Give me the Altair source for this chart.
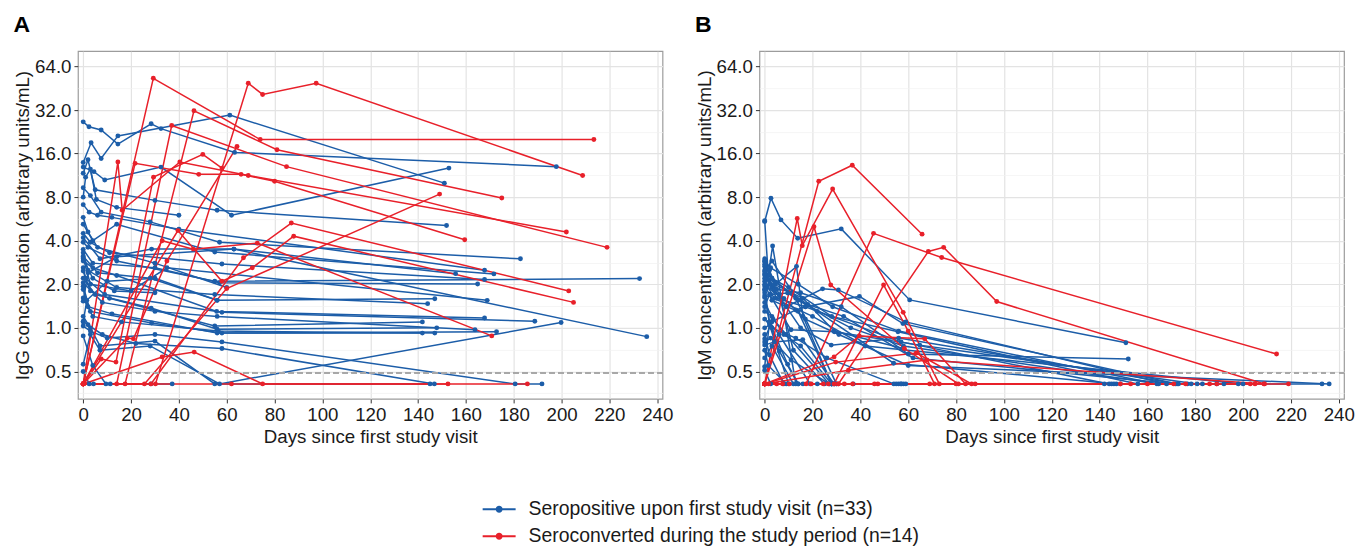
import altair as alt
import pandas as pd

FONT = "Liberation Sans"
BLUE = "#1C5DA8"
RED = "#E8202A"
POS = "Seropositive upon first study visit (n=33)"
CONV = "Seroconverted during the study period (n=14)"
CUTOFF = 0.49

X_ALL = [0, 10, 20, 30, 40, 50, 60, 70, 80, 90, 100, 110, 120, 130, 140, 150,
         160, 170, 180, 190, 200, 210, 220, 230, 240]
Y_MAJOR = [0.5, 1, 2, 4, 8, 16, 32, 64]
Y_ALL = [0.3536, 0.5, 0.7071, 1, 1.4142, 2, 2.8284, 4, 5.6569, 8, 11.3137, 16,
         22.6274, 32, 45.2548, 64]

# IgG, seropositive at first visit: (day, value) per subject
IGG_POS = [
    [(0, 26.5), (2.4, 24.5), (7.5, 23.3), (14.5, 18.6), (28.4, 25.7), (32.5, 23.8), (63.3, 16.3), (197.8, 13.0)],
    [(0, 13.9), (3.3, 19.0), (7.5, 14.8), (14.5, 21.2), (61.3, 29.5), (151, 10.0)],
    [(0, 12.9), (4.5, 12.0), (9, 10.5), (32.5, 12.9), (62, 6.0), (152.9, 12.7)],
    [(0, 11.7), (2, 14.5), (5, 9.0), (30, 7.6), (56, 6.5), (151.9, 5.1)],
    [(0, 9.3), (3, 8.2), (7.5, 6.3), (28, 5.4), (57, 3.9), (182.8, 3.0)],
    [(0, 7.1), (2.5, 6.3), (6, 6.0), (12, 5.8), (40, 4.8), (167.8, 2.5)],
    [(0, 5.2), (4, 4.0), (14, 5.2), (55, 3.34), (171.7, 2.36)],
    [(0, 4.5), (3, 3.9), (11, 3.3), (58, 2.76), (167.8, 2.16)],
    [(0, 4.2), (7, 3.0), (28.6, 3.5), (63, 3.5), (155.7, 2.37)],
    [(0, 3.9), (2, 3.6), (14, 2.9), (55, 2.1), (232.6, 2.19)],
    [(0, 3.48), (4, 2.8), (30, 2.6), (57, 2.05), (164.9, 2.01)],
    [(0, 3.3), (2, 2.5), (14, 1.9), (55, 1.7), (144, 1.47)],
    [(0, 3.13), (6, 2.4), (28, 2.2), (56, 1.55), (147, 1.59)],
    [(0, 3.05), (3, 2.0), (20, 1.8), (35, 2.6), (168.9, 1.55)],
    [(0, 2.9), (4, 2.6), (14, 2.3), (55.8, 1.3), (167.8, 1.17)],
    [(0, 2.6), (1, 2.2), (9, 1.7), (58, 1.28), (188.8, 1.11)],
    [(0, 0.56), (3, 0.9), (7, 0.7), (28, 0.75), (57, 0.41), (199.8, 1.09)],
    [(0, 2.47), (3, 1.8), (11, 1.6), (55, 1.03), (141.8, 1.1)],
    [(0, 2.2), (5, 1.7), (28.4, 1.37), (56, 0.98), (147.8, 1.0)],
    [(0, 2.05), (8, 1.5), (30, 1.3), (56, 1.2), (163.8, 0.97)],
    [(0, 1.94), (3, 1.3), (28.6, 1.08), (58, 0.92), (172.8, 0.94)],
    [(0, 1.84), (2, 1.4), (12, 1.25), (56, 0.92), (141.8, 0.92)],
    [(0, 1.61), (4, 1.2), (16, 1.1), (56.5, 0.95), (147, 0.92)],
    [(0, 1.53), (2, 2.4), (14, 3.1), (63, 3.5), (235.6, 0.87)],
    [(0, 1.2), (3, 1.0), (7, 0.75), (30, 0.81), (55, 0.41), (145, 0.41)],
    [(0, 1.11), (2, 1.05), (8, 0.9), (22, 0.78), (58, 0.72), (146.8, 0.41)],
    [(0, 1.03), (3, 0.95), (10, 0.85), (30, 0.9), (58, 0.8), (180.6, 0.41), (191.8, 0.41)],
    [(0, 0.5), (2.5, 0.41), (4.3, 0.41), (11.3, 0.41)],
    [(0, 0.88), (4, 0.55), (9.5, 0.41), (28.3, 0.41), (37.2, 0.41)],
    [(0, 5.8), (2, 4.6), (6, 3.6), (30, 2.8), (60, 1.9)],
    [(0, 8.0), (1, 11.0), (3, 12.5), (5.5, 7.7), (14, 6.8), (40, 6.0)],
    [(0, 3.0), (4, 2.2), (13, 1.8), (30, 1.75)],
    [(0, 1.1), (1.5, 1.55), (10, 2.1), (30, 2.2), (56, 1.55)],
]

# IgG, seroconverted during the study
IGG_CONV = [
    [(0, 0.41), (29.3, 53), (74, 20), (213.5, 20)],
    [(0, 0.41), (30.2, 0.41), (69, 49), (75, 41), (97.4, 49), (208.8, 11.3)],
    [(0, 0.41), (17.5, 0.41), (46.3, 31.6), (81, 17), (175, 7.9)],
    [(0, 0.41), (14, 0.41), (37, 25), (85, 13), (219, 3.6)],
    [(0, 0.41), (14.5, 14), (16.3, 6.5), (40.4, 14), (69, 11.3), (202, 4.6)],
    [(0, 0.41), (21.7, 13.7), (48.3, 11.5), (66, 11.5), (80, 10.3), (159.5, 4.06)],
    [(0, 0.41), (25.6, 0.41), (60, 1.87), (149, 8.4)],
    [(0, 0.41), (28.3, 0.41), (67, 3.05), (87, 5.3), (203, 1.8)],
    [(0, 0.41), (39.6, 4.7), (58, 2.1), (70.7, 2.6), (88, 4.3), (205, 1.5)],
    [(0, 0.41), (33, 4.0), (46, 3.5), (72.8, 3.85), (170.8, 0.88)],
    [(0, 0.41), (33, 0.63), (46.4, 0.68), (75, 0.41), (152.5, 0.41)],
    [(0, 0.41), (62, 0.41), (185.7, 0.41)],
    [(0, 0.41), (7.5, 0.61), (13.7, 0.58), (29.4, 11), (50, 15.8), (58, 12.7)],
    [(0, 0.41), (18.4, 0.85), (21, 0.84), (35, 2.9), (64.3, 17.9)],
]

# IgM, seropositive at first visit
IGM_POS = [
    [(0, 5.43), (2.6, 7.86), (6.8, 5.57), (13.8, 4.16), (32, 4.83), (60.6, 1.56), (151, 0.79)],
    [(0, 5.5), (1.5, 2.3), (3.3, 3.68), (13, 0.41), (29, 0.41), (146, 0.41)],
    [(0, 2.87), (2.5, 2.6), (14, 2.0), (28.4, 1.4), (56, 0.95), (164, 0.41)],
    [(0, 2.66), (3, 1.9), (13.3, 2.66), (16, 1.2), (28, 0.41), (142, 0.41)],
    [(0, 2.51), (4, 1.85), (15, 1.0), (27.8, 0.76), (56, 0.85), (173, 0.41)],
    [(0, 2.36), (2, 2.0), (9, 1.4), (24.2, 1.86), (30.8, 1.83), (59, 1.1), (168, 0.41)],
    [(0, 2.32), (5, 1.6), (17, 1.4), (39.6, 1.65), (57.8, 1.07), (172.4, 0.41)],
    [(0, 1.83), (3, 2.2), (10, 1.9), (28, 1.2), (55.7, 0.94), (156, 0.41)],
    [(0, 1.67), (1.9, 1.1), (6.1, 0.69), (14, 0.41), (28, 0.41), (148.7, 0.41)],
    [(0, 1.62), (2.5, 1.7), (9.6, 1.74), (22, 1.3), (53.9, 0.57), (147, 0.41)],
    [(0, 1.4), (2, 1.7), (11, 0.97), (29.1, 0.94), (64.8, 0.76), (180.8, 0.41)],
    [(0, 0.84), (3, 1.1), (13, 1.33), (17, 1.4), (57, 0.8), (144, 0.41)],
    [(0, 0.76), (4, 0.8), (15.9, 0.83), (29, 0.41), (58, 0.41), (183, 0.41)],
    [(0, 0.54), (2, 1.1), (9.6, 0.56), (14, 0.41), (189, 0.41)],
    [(0, 0.51), (2.5, 0.41), (28, 0.41), (57, 0.41), (192, 0.41)],
    [(0, 3.0), (1, 2.2), (5, 1.85), (15, 1.75), (32, 1.4), (60, 0.66), (152, 0.61)],
    [(0, 2.9), (3, 2.2), (13, 1.6), (30, 0.41), (198, 0.41)],
    [(0, 2.1), (4, 1.6), (20, 1.2), (42, 0.75), (200, 0.41)],
    [(0, 1.95), (2, 2.5), (6, 1.7), (12, 0.7), (25, 0.41), (233, 0.41)],
    [(0, 1.75), (1, 1.9), (8, 1.6), (17, 1.15), (31, 0.9), (60, 0.55), (236, 0.41)],
    [(0, 2.45), (3, 2.9), (14, 1.55), (36, 1.0), (58, 0.75), (164.7, 0.41)],
    [(0, 2.2), (5, 2.05), (18, 1.45), (33, 1.2), (62, 0.62), (171.7, 0.41)],
    [(0, 1.3), (3, 1.2), (8, 0.9), (15, 0.75), (28, 0.41), (176.7, 0.41)],
    [(0, 1.0), (2, 1.05), (10, 0.41), (22, 0.41), (145, 0.41)],
    [(0, 0.62), (3, 0.75), (12, 0.41), (28, 0.41), (178.3, 0.41)],
    [(0, 2.0), (3, 1.55), (14, 1.3), (28, 0.41), (56, 0.41)],
    [(0, 1.5), (3.5, 1.15), (9, 0.9), (27, 0.41), (55, 0.41)],
    [(0, 0.9), (2, 0.65), (8, 0.41), (29, 0.41), (57, 0.41)],
    [(0, 2.75), (4, 2.0), (16, 1.6), (29, 0.95), (58, 0.72)],
    [(0, 1.15), (3, 1.0), (13, 0.85), (26, 0.62), (54, 0.41)],
    [(0, 0.7), (1.5, 0.55), (9, 0.41), (16, 0.41), (30, 0.41)],
    [(0, 1.85), (2, 1.1), (6, 0.9), (19, 0.41), (37, 0.41)],
    [(0, 0.8), (2.5, 0.85), (11, 0.6), (27, 0.41), (59, 0.41)],
]

# IgM, seroconverted during the study
IGM_CONV = [
    [(0, 0.41), (22.6, 10.3), (36.6, 13.3), (65.8, 4.44)],
    [(0, 0.41), (13.6, 5.7), (15.7, 3.7), (28.4, 9.1), (57.9, 1.28), (73, 0.41), (160, 0.41)],
    [(0, 0.41), (17.3, 0.41), (45.5, 4.5), (74, 3.06), (214, 0.66)],
    [(0, 0.41), (30.8, 0.41), (68.4, 3.37), (74.8, 3.6), (97, 1.52), (209, 0.41)],
    [(0, 0.41), (20.6, 5.0), (27.6, 1.98), (58.4, 0.72), (81, 0.41), (171, 0.41)],
    [(0, 0.41), (29, 0.41), (49.7, 1.98), (60, 0.95), (71, 0.41), (176, 0.41)],
    [(0, 0.41), (29, 0.63), (39.5, 0.88), (66.9, 0.84), (84, 0.41), (186, 0.41)],
    [(0, 0.41), (29.7, 0.58), (63.4, 0.67), (86.5, 0.41), (189, 0.41)],
    [(0, 0.41), (35, 0.51), (67.8, 0.6), (208.7, 0.41)],
    [(0, 0.41), (7.5, 0.41), (24.5, 0.41), (45.9, 0.41), (80, 0.41), (203, 0.41)],
    [(0, 0.41), (10.3, 0.41), (33.3, 0.41), (69, 0.41), (148.7, 0.41)],
    [(0, 0.41), (1.6, 0.41), (19.4, 0.41), (47.3, 0.41), (153, 0.41)],
    [(0, 0.41), (26.6, 0.41), (36.8, 0.41), (88, 0.41), (205, 0.41)],
    [(0, 0.41), (5, 0.41), (30.8, 0.41), (219, 0.41)],
]


def build(pos, conv, tag):
    rows = []
    for i, subj in enumerate(pos):
        for d, v in subj:
            rows.append({"subject": f"{tag}p{i}", "group": POS, "day": d, "value": v})
    for i, subj in enumerate(conv):
        for d, v in subj:
            rows.append({"subject": f"{tag}c{i}", "group": CONV, "day": d, "value": v})
    return pd.DataFrame(rows)


LEG_PATH = ("M-1,0L1,0M0.15,0A0.15,0.15,0,1,1,-0.15,0A0.15,0.15,0,1,1,0.15,0Z"
            "M0.07,0A0.07,0.07,0,1,1,-0.07,0A0.07,0.07,0,1,1,0.07,0Z")

major_y_test = "indexof([0.5,1,2,4,8,16,32,64], datum.value) >= 0"
major_x_test = "datum.value % 20 === 0"

color_scale = alt.Scale(domain=[POS, CONV], range=[BLUE, RED])

FS = 18.7


def panel(df, letter, ytitle, with_legend):
    x = alt.X("day:Q", title="Days since first study visit",
              scale=alt.Scale(domain=[-2.2, 242.2], nice=False, zero=False),
              axis=alt.Axis(values=X_ALL, grid=True,
                            labelExpr=f"{major_x_test} ? datum.value : ''",
                            gridColor={"condition": {"test": major_x_test, "value": "#E3E3E3"}, "value": "#F1F1F1"},
                            gridWidth={"condition": {"test": major_x_test, "value": 1.2}, "value": 0.7},
                            tickOpacity={"condition": {"test": major_x_test, "value": 1}, "value": 0}))
    y = alt.Y("value:Q", title=ytitle,
              scale=alt.Scale(type="log", base=2, domain=[0.323, 81.6], nice=False),
              axis=alt.Axis(values=Y_ALL, grid=True,
                            labelExpr=f"{major_y_test} ? format(datum.value, '.1f') : ''",
                            gridColor={"condition": {"test": major_y_test, "value": "#E3E3E3"}, "value": "#F1F1F1"},
                            gridWidth={"condition": {"test": major_y_test, "value": 1.2}, "value": 0.7},
                            tickOpacity={"condition": {"test": major_y_test, "value": 1}, "value": 0}))
    if with_legend:
        leg = alt.Legend(title=None, orient="none", legendX=404, legendY=441,
                         direction="vertical", symbolType=LEG_PATH, symbolSize=1089,
                         symbolStrokeWidth=2, labelFont=FONT, labelFontSize=19.4,
                         labelColor="#1a1a1a", labelOffset=12, rowPadding=-4, padding=0,
                         labelLimit=600)
    else:
        leg = None
    base = alt.Chart(df)
    lines = base.mark_line(strokeWidth=1.5).encode(
        x=x, y=y,
        color=alt.Color("group:N", scale=color_scale, legend=leg),
        detail="subject:N",
        order="day:Q",
    )
    pts = base.mark_circle(size=24, opacity=1).encode(
        x="day:Q", y="value:Q",
        color=alt.Color("group:N", scale=color_scale, legend=None),
    )
    cut = alt.Chart(df).mark_rule(color="#A8A8A8", strokeDash=[5, 4], strokeWidth=1.1).encode(
        y=alt.datum(CUTOFF)
    )
    return alt.layer(lines, cut, pts).properties(
        width=585, height=348,
        title=alt.TitleParams(letter, anchor="start", fontSize=23, fontWeight="bold",
                              font=FONT, color="#000000", offset=14),
    )


dfA = build(IGG_POS, IGG_CONV, "A")
dfB = build(IGM_POS, IGM_CONV, "B")

chart = alt.hconcat(
    panel(dfA, "A", "IgG concentration (arbitrary units/mL)", True),
    panel(dfB, "B", "IgM concentration (arbitrary units/mL)", False),
    spacing=21,
).configure_view(
    stroke="#9C9C9C", strokeWidth=1.2
).configure_axis(
    domain=False, labelFont=FONT, titleFont=FONT, labelFontSize=FS, titleFontSize=FS,
    labelColor="#1a1a1a", titleColor="#1a1a1a", titleFontWeight="normal",
    tickColor="#333333", tickSize=4, labelPadding=3, titlePadding=3,
).configure_axisY(
    titlePadding=2
)

chart.save("out.html", embed_options={"renderer": "svg", "actions": False})
